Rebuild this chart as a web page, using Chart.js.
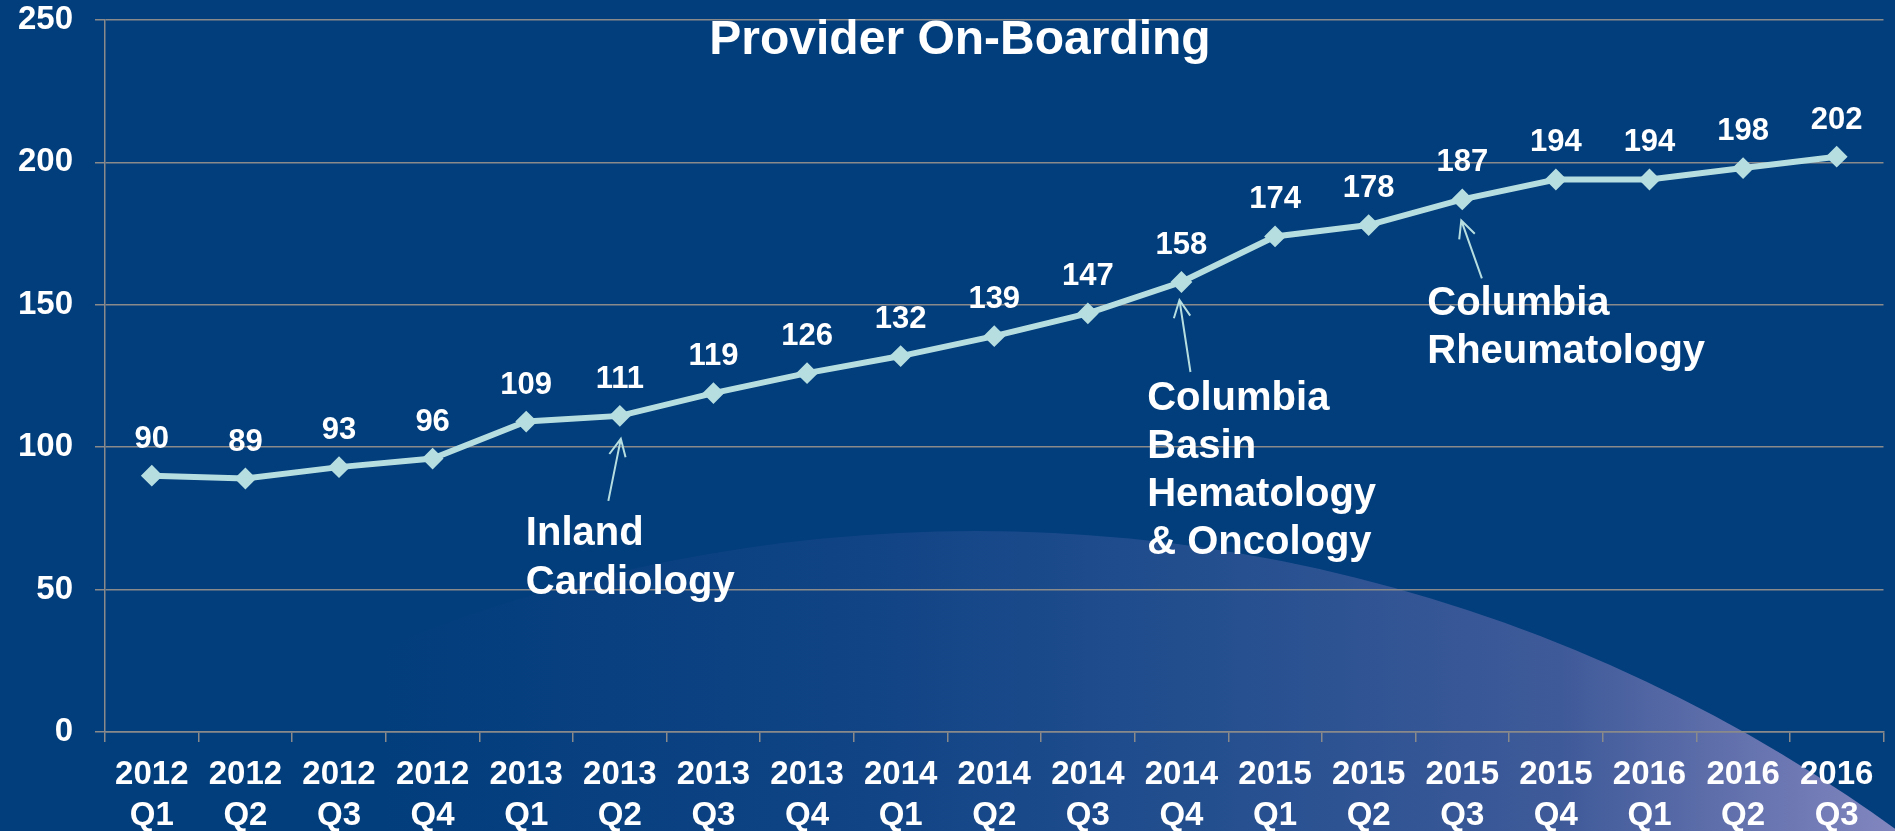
<!DOCTYPE html>
<html><head><meta charset="utf-8">
<script src="https://cdn.jsdelivr.net/npm/chart.js@4/dist/chart.umd.min.js"></script>
<style>
html,body{margin:0;padding:0;background:#023d7c;overflow:hidden}
#wrap{width:1895px;height:831px;position:relative}
canvas{display:block}
</style></head><body><div id="wrap"><canvas id="c" width="1895" height="831"></canvas></div>
<script>
const chartTitle = "Provider On-Boarding";
const categories = [
  ["2012","Q1"],["2012","Q2"],["2012","Q3"],["2012","Q4"],
  ["2013","Q1"],["2013","Q2"],["2013","Q3"],["2013","Q4"],
  ["2014","Q1"],["2014","Q2"],["2014","Q3"],["2014","Q4"],
  ["2015","Q1"],["2015","Q2"],["2015","Q3"],["2015","Q4"],
  ["2016","Q1"],["2016","Q2"],["2016","Q3"]
];
const providers = [90,89,93,96,109,111,119,126,132,139,147,158,174,178,187,194,194,198,202];
const yMin = 0, yMax = 250, yStep = 50;
const noteIndex = [5, 11, 14];
const noteLines = [
  ["Inland","Cardiology"],
  ["Columbia","Basin","Hematology","& Oncology"],
  ["Columbia","Rheumatology"]
];

const BG = '#023d7c';
const LINE = '#b6dee0';
const GRID = '#8a8a8a';
const FONT = '"Liberation Sans", Arial, Helvetica, sans-serif';

// offsets (px) relative to the annotated point: arrow tip, arrow tail, text left/baseline
const noteGeom = [
  {tip:[1,23], tail:[-11.5,85], text:[-94,129.4]},
  {tip:[-2,18], tail:[9,90], text:[-34.3,127.5]},
  {tip:[-1,21], tail:[19.6,79], text:[-35,115.7]}
];

const bgPlugin = {
  id:'bg',
  beforeDraw(chart){
    const ctx = chart.ctx, w = chart.width, h = chart.height;
    ctx.save();
    ctx.fillStyle = BG;
    ctx.fillRect(0,0,w,h);
    const g = ctx.createLinearGradient(380,0,w,0);
    g.addColorStop(0,'#023d7c');
    g.addColorStop(0.3,'#0f4384');
    g.addColorStop(0.55,'#244f8f');
    g.addColorStop(0.78,'#3f5a99');
    g.addColorStop(1,'#8286bf');
    ctx.beginPath();
    ctx.arc(976,2098,1567,0,Math.PI*2);
    ctx.fillStyle = g;
    ctx.fill();
    ctx.restore();
  }
};

const labelPlugin = {
  id:'labels',
  afterDatasetsDraw(chart){
    const ctx = chart.ctx;
    const meta = chart.getDatasetMeta(0);
    ctx.save();
    ctx.fillStyle = '#ffffff';
    ctx.font = 'bold 31px ' + FONT;
    ctx.textAlign = 'center';
    ctx.textBaseline = 'alphabetic';
    meta.data.forEach((pt,i)=>{
      ctx.fillText(String(providers[i]), pt.x, pt.y - 28);
    });
    noteIndex.forEach((idx,k)=>{
      const pt = meta.data[idx];
      const gm = noteGeom[k];
      const tx = pt.x + gm.tip[0], ty = pt.y + gm.tip[1];
      const sx = pt.x + gm.tail[0], sy = pt.y + gm.tail[1];
      ctx.strokeStyle = LINE;
      ctx.lineWidth = 2;
      ctx.beginPath();
      ctx.moveTo(sx,sy); ctx.lineTo(tx,ty);
      const ang = Math.atan2(sy-ty, sx-tx);
      const L = 19, a = 0.45;
      ctx.moveTo(tx + L*Math.cos(ang-a), ty + L*Math.sin(ang-a));
      ctx.lineTo(tx,ty);
      ctx.lineTo(tx + L*Math.cos(ang+a), ty + L*Math.sin(ang+a));
      ctx.stroke();
      ctx.fillStyle = '#ffffff';
      ctx.font = 'bold 40px ' + FONT;
      ctx.textAlign = 'left';
      noteLines[k].forEach((ln,j)=>{
        ctx.fillText(ln, pt.x + gm.text[0], pt.y + gm.text[1] + j*48.3);
      });
    });
    ctx.fillStyle = '#ffffff';
    ctx.font = 'bold 48px ' + FONT;
    ctx.textAlign = 'center';
    ctx.fillText(chartTitle, 960, 53.5);
    ctx.restore();
  }
};

new Chart(document.getElementById('c'), {
  type:'line',
  data:{
    labels: categories,
    datasets:[{
      data: providers,
      borderColor: LINE,
      backgroundColor: LINE,
      borderWidth: 6,
      pointStyle: 'rectRot',
      pointRadius: 9.5,
      pointBorderWidth: 2,
      pointBackgroundColor: LINE,
      pointBorderColor: LINE,
      tension: 0,
      fill: false
    }]
  },
  options:{
    responsive:false,
    animation:false,
    devicePixelRatio:1,
    layout:{padding:{top:0,right:5,left:0,bottom:0}},
    plugins:{legend:{display:false},title:{display:false},tooltip:{enabled:false}},
    scales:{
      x:{
        offset:true,
        grid:{display:true,drawOnChartArea:false,drawTicks:true,tickLength:10,offset:true,color:GRID,lineWidth:1.5},
        border:{display:true,color:GRID,width:1.5},
        ticks:{color:'#ffffff',font:{family:FONT,weight:'bold',size:33,lineHeight:1.23},padding:13,autoSkip:false,maxRotation:0,minRotation:0},
        afterFit(s){ s.height = 99; s.paddingLeft = 0; s.paddingRight = 0; }
      },
      y:{
        min:yMin,max:yMax,
        ticks:{stepSize:yStep,color:'#ffffff',font:{family:FONT,weight:'bold',size:33,lineHeight:1.2121},padding:22},
        grid:{color:GRID,lineWidth:1.5,tickLength:10,drawTicks:true},
        border:{display:true,color:GRID,width:1.5},
        afterFit(s){ s.width = 105; s.paddingTop = 20; s.paddingBottom = 0; }
      }
    }
  },
  plugins:[bgPlugin,labelPlugin]
});
</script>
</body></html>
